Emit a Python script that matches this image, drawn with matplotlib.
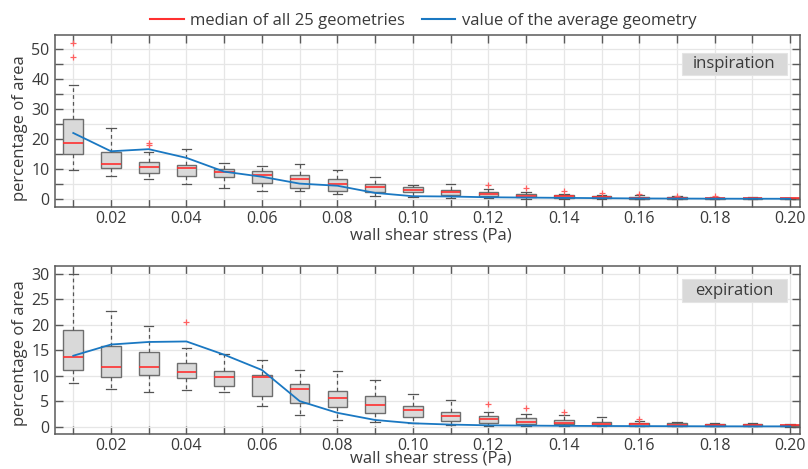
import matplotlib
matplotlib.use("Agg")
import matplotlib.pyplot as plt
from matplotlib.patches import Rectangle
from matplotlib.lines import Line2D
import matplotlib.ticker as mticker
import numpy as np

plt.rcParams['font.family'] = ['Open Sans', 'DejaVu Sans']

# wall shear stress bins (Pa)
wss = [0.01, 0.02, 0.03, 0.04, 0.05, 0.06, 0.07, 0.08, 0.09, 0.10,
       0.11, 0.12, 0.13, 0.14, 0.15, 0.16, 0.17, 0.18, 0.19, 0.20]

# ---------------- inspiration ----------------
insp_q1 = [15.0, 10.2, 8.7, 7.7, 7.3, 5.3, 3.6, 2.7, 2.3, 2.2,
           1.3, 0.9, 0.6, 0.3, 0.2, 0.1, 0.1, 0.05, 0.05, 0.05]
insp_med = [18.6, 11.7, 10.7, 10.3, 9.0, 8.0, 6.7, 5.0, 4.0, 3.1,
            2.2, 1.7, 1.1, 0.9, 0.7, 0.45, 0.35, 0.3, 0.2, 0.15]
insp_q3 = [26.8, 15.7, 12.2, 11.3, 10.1, 9.2, 7.9, 6.8, 5.0, 3.9,
           3.0, 2.2, 1.6, 1.3, 1.0, 0.8, 0.7, 0.45, 0.4, 0.35]
insp_whislo = [9.6, 7.6, 6.6, 5.0, 3.7, 2.8, 2.7, 1.8, 0.9, 0.7,
               0.3, 0.2, 0.1, 0.0, 0.0, 0.0, 0.0, 0.0, 0.0, 0.0]
insp_whishi = [38.0, 23.7, 15.6, 16.6, 12.1, 10.9, 11.6, 9.7, 7.3, 4.8,
               5.1, 3.3, 2.4, 1.8, 1.4, 1.2, 1.0, 0.7, 0.55, 0.45]
insp_outliers = [[47.2, 52.0], [], [18.1, 18.5], [], [], [], [], [], [], [],
                 [], [4.7], [3.7], [2.6], [2.0], [1.6], [1.1], [0.9], [], []]
insp_avg = [22.0, 15.9, 16.6, 13.7, 9.1, 7.4, 5.1, 4.4, 2.0, 0.9,
            0.8, 0.55, 0.45, 0.35, 0.25, 0.15, 0.12, 0.08, 0.06, 0.05]

# ---------------- expiration ----------------
exp_q1 = [11.2, 9.7, 10.1, 9.6, 7.9, 6.1, 4.6, 3.8, 2.6, 1.8,
          1.1, 0.65, 0.6, 0.45, 0.3, 0.2, 0.2, 0.15, 0.15, 0.1]
exp_med = [13.7, 11.7, 11.6, 10.8, 9.8, 9.7, 7.4, 5.6, 4.2, 3.2,
           2.0, 1.5, 1.0, 0.8, 0.6, 0.45, 0.4, 0.35, 0.3, 0.25]
exp_q3 = [19.0, 15.9, 14.6, 12.5, 11.0, 10.1, 8.4, 7.0, 6.0, 4.0,
          2.9, 2.1, 1.6, 1.2, 1.0, 0.7, 0.65, 0.6, 0.5, 0.4]
exp_whislo = [8.6, 7.3, 6.7, 7.1, 6.7, 4.0, 2.2, 1.2, 1.0, 0.65,
              0.3, 0.2, 0.1, 0.1, 0.05, 0.05, 0.05, 0.05, 0.05, 0.0]
exp_whishi = [30.0, 22.7, 19.7, 15.4, 14.3, 13.0, 11.2, 11.0, 9.1, 6.3,
              5.2, 2.9, 2.5, 2.2, 1.8, 1.1, 0.9, 0.8, 0.65, 0.45]
exp_outliers = [[], [], [], [20.5], [], [], [], [], [], [],
                [], [4.4], [3.7], [2.8], [], [1.4], [], [], [], []]
exp_avg = [13.9, 16.1, 16.6, 16.7, 14.1, 11.1, 5.0, 2.7, 1.3, 0.65,
           0.4, 0.25, 0.2, 0.15, 0.12, 0.1, 0.08, 0.06, 0.05, 0.05]

legend_labels = ["median of all 25 geometries", "value of the average geometry"]
phase_labels = ["inspiration", "expiration"]

RED = '#ff3030'
BLUE = '#1a78c2'
TXT = '#3a3a3a'
SPINE = '#5a5a5a'

fig = plt.figure(figsize=(8.08, 4.69), dpi=100)
W, H = 808, 469


def ax_rect(l, t, r, b):
    return [l / W, 1 - b / H, (r - l) / W, (b - t) / H]


ax1 = fig.add_axes(ax_rect(55, 35, 800, 207))
ax2 = fig.add_axes(ax_rect(55, 266, 800, 434))


def draw(ax, q1, med, q3, lo, hi, outl, avg, ylim, ystep, ylabstep, label, boxrect):
    stats = []
    for i in range(len(wss)):
        stats.append(dict(q1=q1[i], med=med[i], q3=q3[i], whislo=lo[i],
                          whishi=hi[i], fliers=np.array(outl[i], dtype=float)))
    ax.bxp(stats, positions=wss, widths=0.0052, patch_artist=True,
           showfliers=True, manage_ticks=False,
           boxprops=dict(facecolor='#d9d9d9', edgecolor='#6e6e6e', linewidth=1.0),
           medianprops=dict(color=RED, linewidth=1.2),
           whiskerprops=dict(color='#555555', linewidth=0.9, linestyle=(0, (3, 2.5))),
           capprops=dict(color='#555555', linewidth=0.9),
           flierprops=dict(marker='+', markeredgecolor='#ff6060', markersize=4,
                           markeredgewidth=0.9, linestyle='none'),
           capwidths=0.0025)
    ax.plot(wss, avg, color=BLUE, linewidth=1.3, zorder=5)
    ax.set_xlim(0.00516, 0.2026)
    ax.set_ylim(*ylim)
    ax.xaxis.set_major_locator(mticker.MultipleLocator(0.01))
    ax.xaxis.set_major_formatter(mticker.FuncFormatter(
        lambda v, p: ('%.2f' % v) if (round(v * 100) % 2 == 0 and v > 0.001) else ''))
    ax.yaxis.set_major_locator(mticker.MultipleLocator(ystep))
    ax.yaxis.set_major_formatter(mticker.FuncFormatter(
        lambda v, p: ('%d' % round(v)) if round(v) % ylabstep == 0 else ''))
    ax.grid(True, color='#e6e6e6', linewidth=0.9, zorder=0)
    ax.set_axisbelow(True)
    ax.tick_params(axis='both', direction='in', length=6, width=1.0, color=SPINE,
                   labelsize=11.5, labelcolor=TXT, top=True, right=True)
    ax.tick_params(axis='x', pad=3)
    ax.tick_params(axis='y', pad=4)
    for s in ax.spines.values():
        s.set_color(SPINE)
        s.set_linewidth(1.1)
    ax.set_xlabel("wall shear stress (Pa)", fontsize=12, color=TXT)
    ax.set_ylabel("percentage of area", fontsize=12, color=TXT)
    ax.add_patch(Rectangle((boxrect[0], boxrect[1]), boxrect[2], boxrect[3],
                           transform=ax.transAxes, facecolor='#d9d9d9',
                           edgecolor='#e4e4e4', linewidth=0.8, zorder=6))
    ax.text(boxrect[0] + boxrect[2] / 2, boxrect[1] + boxrect[3] / 2, label,
            transform=ax.transAxes, ha='center', va='center', fontsize=12,
            color=TXT, zorder=7)


draw(ax1, insp_q1, insp_med, insp_q3, insp_whislo, insp_whishi, insp_outliers,
     insp_avg, (-2.7, 54.7), 5, 10, phase_labels[0],
     (0.841, 0.767, 0.1413, 0.130))
draw(ax2, exp_q1, exp_med, exp_q3, exp_whislo, exp_whishi, exp_outliers,
     exp_avg, (-1.45, 31.5), 5, 5, phase_labels[1],
     (0.841, 0.7875, 0.1413, 0.133))

ax1.xaxis.set_label_coords(0.505, -0.118)
ax2.xaxis.set_label_coords(0.505, -0.098)
ax1.yaxis.set_label_coords(-0.0362, 0.46)
ax2.yaxis.set_label_coords(-0.0362, 0.48)

handles = [Line2D([], [], color=RED, linewidth=1.5),
           Line2D([], [], color=BLUE, linewidth=1.5)]
fig.legend(handles, legend_labels, loc='center', bbox_to_anchor=(0.524, 0.955),
           ncol=2, frameon=False, fontsize=12, handlelength=2.0,
           columnspacing=1.0, handletextpad=0.4, labelcolor=TXT)

fig.savefig("out.png", dpi=100)
